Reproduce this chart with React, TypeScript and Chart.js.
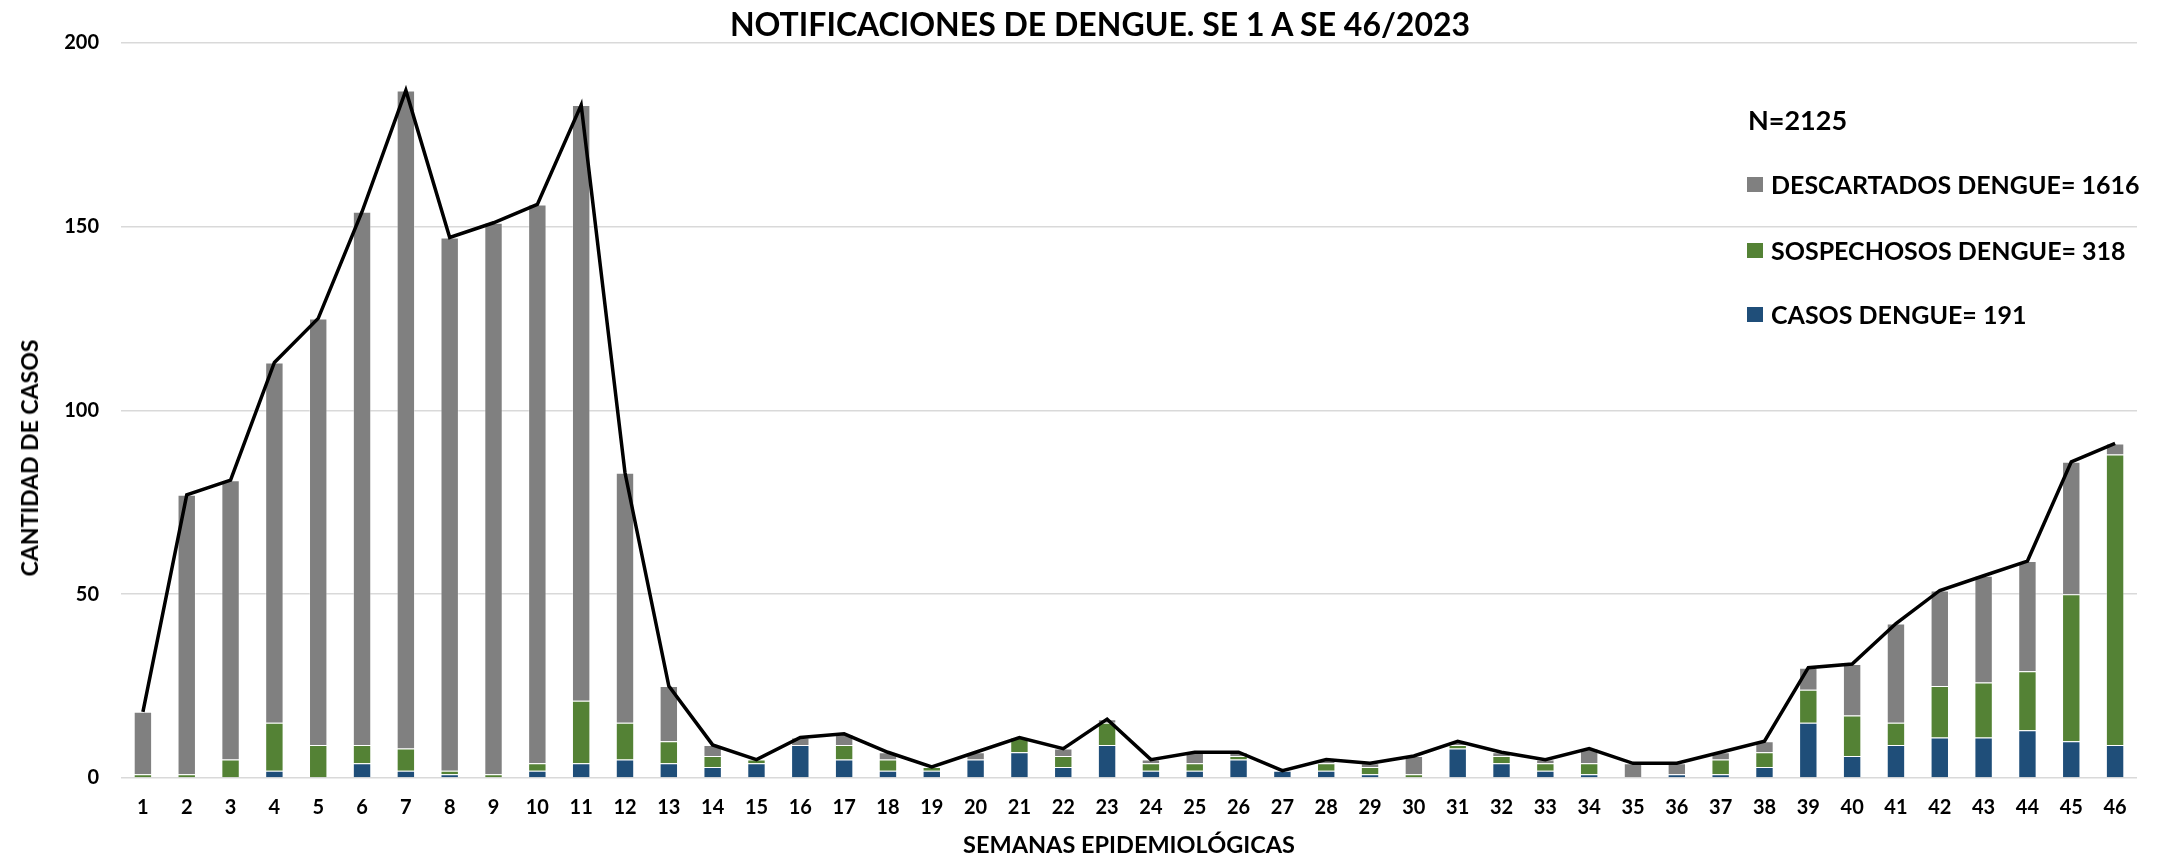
import React, { useEffect, useRef } from "react";
import { Chart, registerables } from "chart.js";

Chart.register(...registerables);

const TITLE = "NOTIFICACIONES DE DENGUE. SE 1 A SE 46/2023";
const X_TITLE = "SEMANAS EPIDEMIOLÓGICAS";
const Y_TITLE = "CANTIDAD DE CASOS";
const N_LABEL = "N=2125";

const weeks = [
  "1", "2", "3", "4", "5", "6", "7", "8", "9", "10",
  "11", "12", "13", "14", "15", "16", "17", "18", "19", "20",
  "21", "22", "23", "24", "25", "26", "27", "28", "29", "30",
  "31", "32", "33", "34", "35", "36", "37", "38", "39", "40",
  "41", "42", "43", "44", "45", "46",
];

const casos = [
  0, 0, 0, 2, 0, 4, 2, 1, 0, 2,
  4, 5, 4, 3, 4, 9, 5, 2, 2, 5,
  7, 3, 9, 2, 2, 5, 2, 2, 1, 0,
  8, 4, 2, 1, 0, 1, 1, 3, 15, 6,
  9, 11, 11, 13, 10, 9,
];

const sospechosos = [
  1, 1, 5, 13, 9, 5, 6, 1, 1, 2,
  17, 10, 6, 3, 1, 0, 4, 3, 1, 0,
  4, 3, 6, 2, 2, 1, 0, 2, 2, 1,
  1, 2, 2, 3, 0, 0, 4, 4, 9, 11,
  6, 14, 15, 16, 40, 79,
];

const descartados = [
  17, 76, 76, 98, 116, 145, 179, 145, 150, 152,
  162, 68, 15, 3, 0, 2, 3, 2, 0, 2,
  0, 2, 1, 1, 3, 1, 0, 1, 1, 5,
  1, 1, 1, 4, 4, 3, 2, 3, 6, 14,
  27, 26, 29, 30, 36, 3,
];

const totales = [
  18, 77, 81, 113, 125, 154, 187, 147, 151, 156,
  183, 83, 25, 9, 5, 11, 12, 7, 3, 7,
  11, 8, 16, 5, 7, 7, 2, 5, 4, 6,
  10, 7, 5, 8, 4, 4, 7, 10, 30, 31,
  42, 51, 55, 59, 86, 91,
];

const yTicks = [0, 50, 100, 150, 200];

const legendLabels = [
  "DESCARTADOS DENGUE= 1616",
  "SOSPECHOSOS DENGUE= 318",
  "CASOS DENGUE= 191",
];
const legendColors = ["#808080", "#548235", "#1F4E79"];

const FONT = "Lato, 'Open Sans', sans-serif";

export default function App() {
  const canvasRef = useRef<HTMLCanvasElement | null>(null);

  useEffect(() => {
    document.body.style.margin = "0";
    const canvas = canvasRef.current;
    if (!canvas) return;
    const tickFont = { family: FONT, size: 20, weight: "bold" as const };
    const barBorder = "rgba(255,255,255,0.35)";
    const chart = new Chart(canvas, {
      type: "bar",
      data: {
        labels: weeks,
        datasets: [
          {
            type: "line" as const,
            label: "TOTAL",
            data: totales,
            borderColor: "#000000",
            borderWidth: 3.5,
            pointRadius: 0,
            tension: 0,
            fill: false,
            order: 0,
            stack: "total",
          } as any,
          {
            label: legendLabels[2],
            data: casos,
            backgroundColor: legendColors[2],
            borderColor: barBorder,
            borderWidth: 1,
            order: 1,
            stack: "notif",
          },
          {
            label: legendLabels[1],
            data: sospechosos,
            backgroundColor: legendColors[1],
            borderColor: barBorder,
            borderWidth: 1,
            order: 1,
            stack: "notif",
          },
          {
            label: legendLabels[0],
            data: descartados,
            backgroundColor: legendColors[0],
            borderColor: barBorder,
            borderWidth: 1,
            order: 1,
            stack: "notif",
          },
        ],
      },
      options: {
        responsive: false,
        animation: false,
        devicePixelRatio: 1,
        layout: { padding: { left: 0, right: 22, top: 42.6, bottom: 0 } },
        datasets: {
          bar: { barPercentage: 0.42, categoryPercentage: 1 },
        },
        plugins: {
          legend: { display: false },
          tooltip: { enabled: false },
          title: { display: false },
        },
        scales: {
          x: {
            stacked: true,
            grid: { display: false, drawTicks: false },
            border: { display: false },
            ticks: {
              color: "#000000",
              font: tickFont,
              padding: 18,
              maxRotation: 0,
              autoSkip: false,
            },
            title: {
              display: true,
              text: X_TITLE,
              color: "#000000",
              font: { family: FONT, size: 23.5, weight: "bold" },
              padding: { top: 0, bottom: 0 },
            },
            afterFit: (s: any) => {
              s.height = 82;
            },
          },
          y: {
            stacked: true,
            min: 0,
            max: 200,
            grid: { color: "#d9d9d9", lineWidth: 1.5, drawTicks: false },
            border: { display: false },
            ticks: {
              color: "#000000",
              font: tickFont,
              padding: 22,
            },
            afterBuildTicks: (s: any) => {
              s.ticks = yTicks.map((v) => ({ value: v }));
            },
            title: { display: false },
            afterFit: (s: any) => {
              s.width = 121;
            },
          },
        },
      },
    });
    return () => chart.destroy();
  }, []);

  const legendTextStyle: React.CSSProperties = {
    fontFamily: FONT,
    fontWeight: "bold",
    fontSize: 25,
    color: "#000000",
    whiteSpace: "nowrap",
  };
  const itemCenters = [184, 250, 314];

  return (
    <div style={{ position: "absolute", left: 0, top: 0, width: 2159, height: 860, background: "#ffffff" }}>
      <canvas ref={canvasRef} width={2159} height={860} style={{ width: 2159, height: 860, display: "block" }} />
      <div
        style={{
          ...legendTextStyle,
          position: "absolute",
          left: 1100,
          top: 24,
          fontSize: 32,
          lineHeight: "38px",
          transform: "translate(-50%, -50%)",
        }}
      >
        {TITLE}
      </div>
      <div
        style={{
          ...legendTextStyle,
          position: "absolute",
          left: 29,
          top: 458,
          fontSize: 23,
          lineHeight: "28px",
          transform: "translate(-50%, -50%) rotate(-90deg)",
        }}
      >
        {Y_TITLE}
      </div>
      <div
        style={{
          ...legendTextStyle,
          position: "absolute",
          left: 1748,
          top: 120 - 16,
          height: 32,
          lineHeight: "32px",
          fontSize: 27,
        }}
      >
        {N_LABEL}
      </div>
      {legendLabels.map((lab, i) => (
        <div
          key={lab}
          style={{
            position: "absolute",
            left: 1747,
            top: itemCenters[i] - 15,
            height: 30,
            display: "flex",
            alignItems: "center",
          }}
        >
          <span style={{ display: "inline-block", width: 16, height: 15, background: legendColors[i], marginRight: 8 }} />
          <span style={{ ...legendTextStyle, lineHeight: "30px" }}>{lab}</span>
        </div>
      ))}
    </div>
  );
}
